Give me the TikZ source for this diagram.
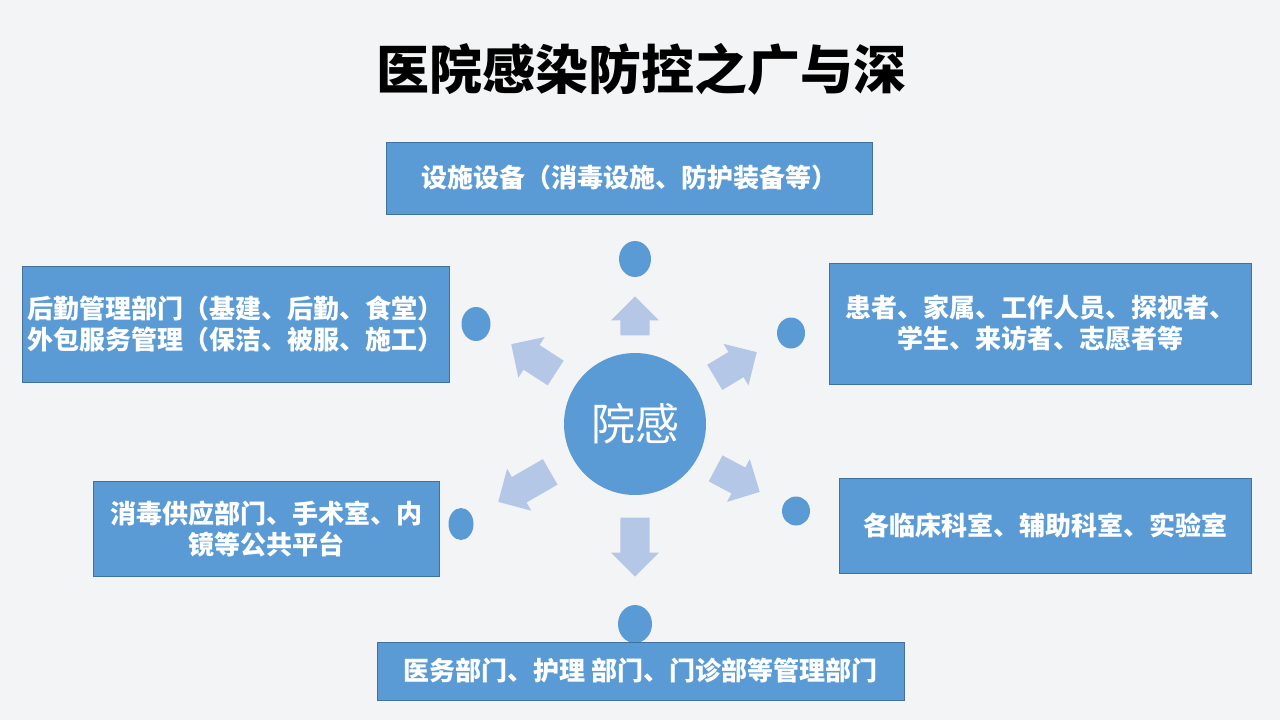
\documentclass[tikz,border=0pt]{standalone}
\usepackage{fontspec}
\setmainfont{Noto Sans CJK SC}
\usetikzlibrary{shapes.geometric,shapes.arrows,positioning}

\definecolor{bgcol}{HTML}{F3F4F6}
\definecolor{boxblue}{HTML}{5B9BD5}
\definecolor{boxline}{HTML}{41719C}
\definecolor{arrowblue}{HTML}{B4C7E7}

\begin{document}
\begin{tikzpicture}[x=1pt,y=-1pt,
box/.style={rectangle, draw=boxline, fill=boxblue, text=white, inner sep=0pt, align=center,
  font=\fontsize{26}{31}\selectfont\bfseries},
dot/.style={ellipse, fill=boxblue, inner sep=0pt},
blockarrow/.style={single arrow, fill=arrowblue, draw=none, anchor=tip,
  inner xsep=0pt, inner ysep=14.5pt, single arrow head extend=9.5pt},
hub/.style={circle, fill=boxblue, minimum size=142pt, inner sep=0pt, text=white,
  font=\fontsize{44}{44}\selectfont},
info/.style={draw=none, fill=none, inner sep=0pt}]

%% background and page size
\fill[bgcol] (0,0) rectangle (1280,720);
\useasboundingbox (0,0) rectangle (1280,720);

%% title
\node[info, font=\fontsize{53}{53}\selectfont\bfseries] (title) at (641,69) {医院感染防控之广与深};

%% centre
\node[hub] (hub) at (635,424) {院感};

%% dots next to the boxes
\foreach \n/\x/\y/\w/\h in {top/635/259/32/36, lt/476/324/29/34, rt/791/333/28/31,
                            lb/461/524/25/32, rb/796/511/28/29, bot/635/624/34/38}
      \node[dot, minimum width=\w pt, minimum height=\h pt] (E-\n) at (\x,\y) {};

%% block arrows out of the centre (tip, angle, length)
\foreach \n/\x/\y/\a/\l in {top/635/296/90/39, bot/635/577/-90/59, lt/511/344/147/53,
                            rt/757/352/31/49, rb/760/492/-28/50, lb/498/502/-150/60}
      \node[blockarrow, rotate=\a, minimum height=\l pt] (A-\n) at (\x,\y) {};

%% boxes
\node[box, minimum width=486pt, minimum height=72pt] (B-top) at (629,178)
      {设施设备（消毒设施、防护装备等）};
\node[box, minimum width=427pt, minimum height=116pt] (B-lt) at (235.5,324)
      {后勤管理部门（基建、后勤、食堂）\\外包服务管理（保洁、被服、施工）};
\node[box, minimum width=422pt, minimum height=121pt] (B-rt) at (1040,323.5)
      {患者、家属、工作人员、探视者、\\学生、来访者、志愿者等};
\node[box, minimum width=346pt, minimum height=95pt] (B-lb) at (266,528.5)
      {消毒供应部门、手术室、内\\镜等公共平台};
\node[box, minimum width=412pt, minimum height=95pt] (B-rb) at (1045,525.5)
      {各临床科室、辅助科室、实验室};
\node[box, minimum width=527pt, minimum height=58pt] (B-bot) at (640.5,671)
      {医务部门、护理 部门、门诊部等管理部门};

\end{tikzpicture}
\end{document}
